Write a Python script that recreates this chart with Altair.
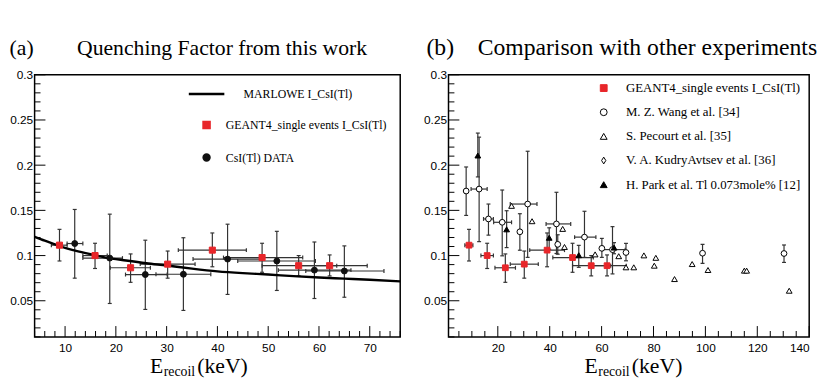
import altair as alt
import pandas as pd

# ---------------- data : panel (a) ----------------
marlowe_x = [4, 6, 8, 10, 12, 15, 18, 22, 26, 30, 35, 40, 45, 50, 55, 60, 65, 70, 76]
marlowe_y = [0.1208, 0.1165, 0.1125, 0.1085, 0.1055, 0.1015, 0.0978, 0.0945, 0.0915, 0.089,
             0.0855, 0.0825, 0.0805, 0.079, 0.0772, 0.0757, 0.0745, 0.0733, 0.0715]

g4_x = [8.9, 15.9, 22.9, 30.2, 39.0, 48.8, 56.0, 62.1]
g4_y = [0.1115, 0.100, 0.0865, 0.0905, 0.106, 0.0978, 0.0888, 0.0888]
g4_ylo = [0.094, 0.0857, 0.0704, 0.075, 0.0876, 0.0815, 0.0775, 0.0775]
g4_yhi = [0.129, 0.1136, 0.1018, 0.105, 0.125, 0.1136, 0.100, 0.1007]
g4_xlo = [7.3, 13.5, 18.9, 24.8, 32.3, 41.2, 48.8, 56.0]
g4_xhi = [10.4, 18.3, 26.8, 35.6, 45.7, 56.8, 63.5, 69.5]

csi_x = [11.9, 18.8, 25.8, 33.3, 42.0, 51.7, 59.1, 65.0]
csi_y = [0.1133, 0.0972, 0.079, 0.0793, 0.0961, 0.094, 0.0839, 0.0829]
csi_ylo = [0.075, 0.047, 0.0404, 0.0393, 0.057, 0.0614, 0.0525, 0.0539]
csi_yhi = [0.151, 0.1458, 0.117, 0.1197, 0.1347, 0.1268, 0.115, 0.1107]
csi_xlo = [10.4, 13.5, 21.9, 27.9, 35.2, 44.0, 52.0, 57.4]
csi_xhi = [13.5, 21.3, 30.1, 38.7, 48.8, 59.3, 66.3, 72.8]

# ---------------- data : panel (b) ----------------
wang_x = [7.8, 12.8, 16.4, 21.7, 28.5, 31.5, 42.6, 43.1, 53.4, 60.1, 64.2, 69.4, 98.9, 130.3]
wang_y = [0.1714, 0.1736, 0.1405, 0.1368, 0.1263, 0.157, 0.135, 0.1124, 0.1204, 0.108, 0.1066,
          0.1034, 0.1026, 0.1023]
wang_ylo = [0.1444, 0.1154, 0.1226, 0.0997, 0.1059, 0.098, 0.1023, 0.1015, 0.098, 0.098, 0.0797,
            0.0942, 0.0913, 0.0924]
wang_yhi = [0.198, 0.231, 0.157, 0.1725, 0.1463, 0.2154, 0.170, 0.123, 0.149, 0.119, 0.132,
            0.1135, 0.1124, 0.1117]
wang_xlo = [None, 9.7, 14.5, 18.4, None, 24.8, 38.6, None, 49.6, None, 60.2, None, None, None]
wang_xhi = [None, 15.9, 18.3, 25.3, None, 35.1, 48.1, None, 57.8, None, 69.1, None, None, None]

pec_x = [25.3, 33.2, 45.0, 45.7, 57.5, 66.6, 69.4, 72.4, 76.3, 80.9, 80.3, 88.1, 94.9, 101.0,
         115.0, 115.9, 132.3]
pec_y = [0.155, 0.138, 0.1295, 0.1095, 0.1013, 0.0993, 0.087, 0.087, 0.1002, 0.0975, 0.0888,
         0.074, 0.0906, 0.084, 0.0833, 0.0833, 0.0611]

park_x = [12.3, 23.4, 39.8, 51.2, 64.8]
park_y = [0.2107, 0.129, 0.1197, 0.1004, 0.1088]
park_ylo = [0.187, 0.1088, 0.107, 0.087, 0.102]
park_yhi = [0.2355, 0.1496, 0.1307, 0.1113, 0.1143]

# tick values / labels
a_xticks = [10, 20, 30, 40, 50, 60, 70]
a_xminor = [v for v in range(4, 77, 2) if v % 10 != 0]
b_xticks = [20, 40, 60, 80, 100, 120, 140]
b_xminor = [v for v in range(5, 139, 5) if v % 20 != 0]
yticks = [0.05, 0.1, 0.15, 0.2, 0.25, 0.3]
yminor = [round(0.01 * i, 2) for i in range(1, 30) if i % 5 != 0]

LEG_A = ["MARLOWE I_CsI(Tl)", "GEANT4_single events I_CsI(Tl)", "CsI(Tl) DATA"]
LEG_B = ["GEANT4_single events I_CsI(Tl)", "M. Z. Wang et al. [34]", "S. Pecourt et al.  [35]",
         "V. A. KudryAvtsev et al. [36]", "H. Park et al. Tl 0.073mole% [12]"]

TITLE_A = "(a)" + "\u00a0" * 8 + "Quenching Factor from this work"
TITLE_B = "(b)" + "\u00a0" * 4 + "Comparison with other experiments"

# ---------------- styling ----------------
SERIF = "Liberation Serif"
SANS = "Liberation Sans"
RED = "#e8262a"
BAR = "#333333"
WA, WB, H = 371, 366, 266

xs_a = alt.Scale(domain=[4, 76], nice=False, zero=False)
xs_b = alt.Scale(domain=[1, 140], nice=False, zero=False)
ys = alt.Scale(domain=[0.01, 0.3], nice=False, zero=False)

AX_Y = alt.Axis(values=yticks, format=".2~f", title=None, labelPadding=2)
AX_XA = alt.Axis(values=a_xticks, format="d", title=None, labelPadding=6)
AX_XB = alt.Axis(values=b_xticks, format="d", title=None, labelPadding=6)


def tick_layers(xscale, xaxis, xmaj, xmin):
    out = []
    for vals, L in ((yticks, 11), (yminor, 6)):
        out.append(alt.Chart(pd.DataFrame({"v": vals})).mark_rule(color="black", strokeWidth=1).encode(
            y=alt.Y("v:Q", scale=ys, axis=AX_Y), x=alt.value(0), x2=alt.value(L)))
    for vals, L in ((xmaj, 11), (xmin, 6)):
        out.append(alt.Chart(pd.DataFrame({"v": vals})).mark_rule(color="black", strokeWidth=1).encode(
            x=alt.X("v:Q", scale=xscale, axis=xaxis), y=alt.value(H), y2=alt.value(H - L)))
    return out


def vbar_layers(df, xscale, xaxis):
    base = alt.Chart(df)
    X = alt.X("x:Q", scale=xscale, axis=xaxis)
    rule = base.mark_rule(color=BAR, strokeWidth=1.2).encode(
        x=X, y=alt.Y("lo:Q", scale=ys, axis=AX_Y), y2="hi:Q")
    c1 = base.mark_tick(orient="horizontal", size=4, thickness=1.2, color=BAR, opacity=1).encode(
        x=X, y=alt.Y("lo:Q", scale=ys, axis=AX_Y))
    c2 = base.mark_tick(orient="horizontal", size=4, thickness=1.2, color=BAR, opacity=1).encode(
        x=X, y=alt.Y("hi:Q", scale=ys, axis=AX_Y))
    return [rule, c1, c2]


def hbar_layers(df, xscale, xaxis):
    base = alt.Chart(df)
    Y = alt.Y("y:Q", scale=ys, axis=AX_Y)
    rule = base.mark_rule(color=BAR, strokeWidth=1.2).encode(
        x=alt.X("lo:Q", scale=xscale, axis=xaxis), x2="hi:Q", y=Y)
    c1 = base.mark_tick(orient="vertical", size=4, thickness=1.2, color=BAR, opacity=1).encode(
        x=alt.X("lo:Q", scale=xscale, axis=xaxis), y=Y)
    c2 = base.mark_tick(orient="vertical", size=4, thickness=1.2, color=BAR, opacity=1).encode(
        x=alt.X("hi:Q", scale=xscale, axis=xaxis), y=Y)
    return [rule, c1, c2]


def axis_title_layers(x0):
    mk = lambda t, dx, dy, fs: alt.Chart(pd.DataFrame({"a": [0]})).mark_text(
        text=t, font=SERIF, fontSize=fs, align="left", baseline="alphabetic", color="black").encode(
        x=alt.value(x0 + dx), y=alt.value(dy))
    return [mk("E", 0, H + 37, 22), mk("recoil", 14, H + 40, 14), mk("(keV)", 48, H + 37, 22)]


# ---------------- panel (a) ----------------
vb_a = pd.DataFrame({"x": g4_x + csi_x, "lo": g4_ylo + csi_ylo, "hi": g4_yhi + csi_yhi})
hb_a = pd.DataFrame({"y": g4_y + csi_y, "lo": g4_xlo + csi_xlo, "hi": g4_xhi + csi_xhi})
curve = pd.DataFrame({"x": marlowe_x, "y": marlowe_y})
pts_a = pd.DataFrame({"x": g4_x + csi_x, "y": g4_y + csi_y,
                      "series": [LEG_A[1]] * len(g4_x) + [LEG_A[2]] * len(csi_x)})

# zero-width char keeps the leading spaces from being trimmed
marlowe_lbl = "\u200b" + "\u00a0" * 6 + LEG_A[0]
leg_a = alt.Legend(title=None, orient="none", legendX=155, legendY=0, padding=0,
                   labelFont=SERIF, labelFontSize=12, labelColor="black", labelOffset=0,
                   labelLimit=400, rowPadding=16, symbolStrokeWidth=2.5,
                   labelExpr=f"datum.label == '{LEG_A[0]}' ? '{marlowe_lbl}' : datum.label")

line_a = alt.Chart(curve).mark_line(color="black", strokeWidth=2.4, interpolate="monotone").encode(
    x=alt.X("x:Q", scale=xs_a, axis=AX_XA), y=alt.Y("y:Q", scale=ys, axis=AX_Y))

points_a = alt.Chart(pts_a).mark_point(filled=True, opacity=1, strokeWidth=1).encode(
    x=alt.X("x:Q", scale=xs_a, axis=AX_XA),
    y=alt.Y("y:Q", scale=ys, axis=AX_Y),
    shape=alt.Shape("series:N", scale=alt.Scale(domain=LEG_A, range=["stroke", "square", "circle"]),
                    legend=leg_a),
    fill=alt.Fill("series:N", scale=alt.Scale(domain=LEG_A, range=["black", RED, "#111111"]),
                  legend=leg_a),
    stroke=alt.Stroke("series:N", scale=alt.Scale(domain=LEG_A, range=["black", RED, "#111111"]),
                      legend=leg_a),
    size=alt.Size("series:N", scale=alt.Scale(type="ordinal", domain=LEG_A, range=[1300, 38, 36]),
                  legend=leg_a),
)

panel_a = alt.layer(
    *tick_layers(xs_a, AX_XA, a_xticks, a_xminor),
    *hbar_layers(hb_a, xs_a, AX_XA), *vbar_layers(vb_a, xs_a, AX_XA),
    line_a, points_a, *axis_title_layers(117),
).properties(width=WA, height=H,
             title=alt.TitleParams(TITLE_A, anchor="start", frame="bounds", font=SERIF, fontSize=22,
                                   fontWeight="normal", color="black", offset=9))

# ---------------- panel (b) ----------------
vb_b = pd.DataFrame({"x": g4_x + wang_x + park_x, "lo": g4_ylo + wang_ylo + park_ylo,
                     "hi": g4_yhi + wang_yhi + park_yhi})
hrows = [(y, lo, hi) for y, lo, hi in zip(g4_y + wang_y, g4_xlo + wang_xlo, g4_xhi + wang_xhi)
         if lo is not None]
hb_b = pd.DataFrame(hrows, columns=["y", "lo", "hi"])
pts_b = pd.DataFrame({"x": g4_x + wang_x + pec_x + park_x, "y": g4_y + wang_y + pec_y + park_y,
                      "grp": [LEG_B[0]] * len(g4_x) + [LEG_B[1]] * len(wang_x)
                      + [LEG_B[2]] * len(pec_x) + [LEG_B[4]] * len(park_x)})

leg_b = alt.Legend(title=None, orient="none", legendX=151, legendY=7, padding=0,
                   labelFont=SERIF, labelFontSize=13, labelColor="black", labelOffset=16,
                   labelLimit=400, rowPadding=10.5, symbolStrokeWidth=1, symbolSize=48)
DIAMOND = "M0,-1L0.62,0L0,1L-0.62,0Z"
points_b = alt.Chart(pts_b).mark_point(filled=True, opacity=1, strokeWidth=1, size=34).encode(
    x=alt.X("x:Q", scale=xs_b, axis=AX_XB),
    y=alt.Y("y:Q", scale=ys, axis=AX_Y),
    shape=alt.Shape("grp:N", scale=alt.Scale(domain=LEG_B, range=["square", "circle", "triangle-up",
                                                                  DIAMOND, "triangle-up"]),
                    legend=leg_b),
    fill=alt.Fill("grp:N", scale=alt.Scale(domain=LEG_B, range=[RED, "white", "white", "white", "black"]),
                  legend=leg_b),
    stroke=alt.Stroke("grp:N", scale=alt.Scale(domain=LEG_B, range=[RED, "black", "black", "black", "black"]),
                      legend=leg_b),
)

panel_b = alt.layer(
    *tick_layers(xs_b, AX_XB, b_xticks, b_xminor),
    *hbar_layers(hb_b, xs_b, AX_XB), *vbar_layers(vb_b, xs_b, AX_XB),
    points_b, *axis_title_layers(138),
).properties(width=WB, height=H,
             title=alt.TitleParams(TITLE_B, anchor="start", frame="bounds", font=SERIF, fontSize=24,
                                   fontWeight="normal", color="black", offset=9, dx=3))

chart = alt.hconcat(panel_a, panel_b, spacing=16).resolve_scale(
    x="independent", y="independent", shape="independent", fill="independent",
    stroke="independent", size="independent"
).properties(
    padding={"left": 0, "top": 25, "right": 4, "bottom": 0}, background="white"
).configure_view(stroke="black", strokeWidth=1.5).configure_axis(
    domain=False, ticks=False, grid=False, labelFont=SANS, labelFontSize=12, labelColor="black"
)

chart.save("out.html", embed_options={"renderer": "svg", "actions": False})
